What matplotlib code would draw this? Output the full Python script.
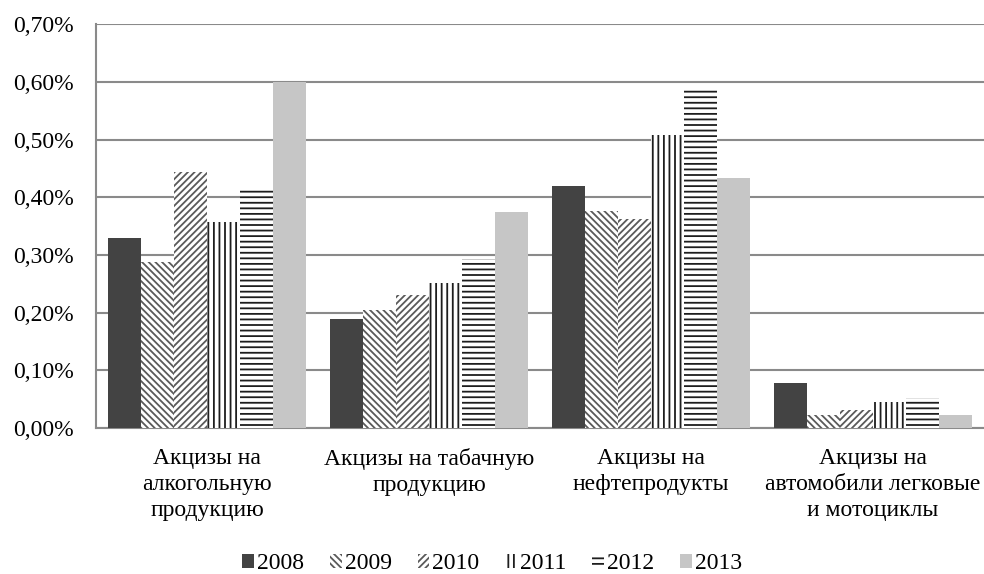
import numpy as np
import matplotlib
matplotlib.use("Agg")
import matplotlib.pyplot as plt

plt.rcParams["font.family"] = ["Liberation Serif", "DejaVu Serif"]
plt.rcParams["hatch.linewidth"] = 1.3

categories = [
    "Акцизы на\nалкогольную\nпродукцию",
    "Акцизы на табачную\nпродукцию",
    "Акцизы на\nнефтепродукты",
    "Акцизы на\nавтомобили легковые\nи мотоциклы",
]
years = ["2008", "2009", "2010", "2011", "2012", "2013"]

v2008 = [0.330, 0.190, 0.419, 0.078]
v2009 = [0.288, 0.205, 0.377, 0.023]
v2010 = [0.444, 0.231, 0.362, 0.032]
v2011 = [0.358, 0.252, 0.508, 0.046]
v2012 = [0.412, 0.293, 0.587, 0.052]
v2013 = [0.600, 0.375, 0.433, 0.023]
series = [v2008, v2009, v2010, v2011, v2012, v2013]

# fill colour, hatch colour, hatch pattern
styles = [
    ("#434343", "#434343", None),
    ("white", "#5a5a5a", "\\" * 5),
    ("white", "#5a5a5a", "/" * 5),
    ("white", "#1e1e1e", "|||"),
    ("white", "#1e1e1e", "---"),
    ("#c6c6c6", "#c6c6c6", None),
]

fig = plt.figure(figsize=(9.84, 5.74), dpi=100)
ax = fig.add_axes([0.0976, 0.254, 0.9024, 0.704])

x = np.arange(len(categories))
w = 0.149
for i, (vals, (fc, hc, hatch)) in enumerate(zip(series, styles)):
    ax.bar(x + (i - 2.5) * w, vals, width=w, color=fc, edgecolor=hc,
           hatch=hatch, linewidth=0, label=years[i], zorder=3)

ax.set_xlim(-0.5, len(categories) - 0.5)
ax.set_ylim(0, 0.70)
yt = np.arange(0, 0.71, 0.1)
ax.set_yticks(yt)
ax.set_yticklabels([f"{t:.2f}%".replace(".", ",") for t in yt], fontsize=17)
ax.set_xticks(x)
ax.set_xticklabels(categories, fontsize=17, linespacing=1.32)
ax.tick_params(axis="both", length=0)
ax.tick_params(axis="x", pad=14)
ax.tick_params(axis="y", pad=16)

ax.grid(axis="y", color="#8a8a8a", linewidth=1.5, zorder=0)
for s in ["top", "right"]:
    ax.spines[s].set_visible(False)
for s in ["left", "bottom"]:
    ax.spines[s].set_color("#8a8a8a")
    ax.spines[s].set_linewidth(1.5)

fig.legend(loc="center", bbox_to_anchor=(0.5, 0.018), ncol=6, frameon=False,
           fontsize=17, handlelength=0.5, handleheight=0.5, handletextpad=0.12,
           columnspacing=1.1)

fig.savefig("out.png", dpi=100)
